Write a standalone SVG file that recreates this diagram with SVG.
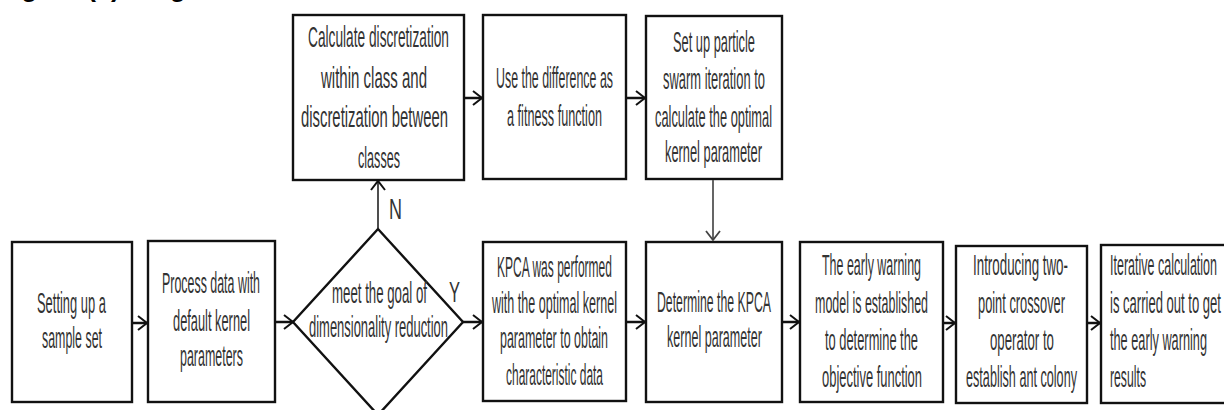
<svg xmlns="http://www.w3.org/2000/svg" width="1224" height="410" viewBox="0 0 1224 410">
<style>
.box{fill:#fff;stroke:#111;stroke-width:2.4}
.t{font-family:"Liberation Sans",Arial,sans-serif;font-size:29px;fill:#333}
.c{stroke:#111;stroke-width:2.5;fill:none}
.cv{stroke:#222;stroke-width:1.6;fill:none}
.cg{stroke:#555;stroke-width:1.8;fill:none}
.cap{font-family:"Liberation Sans",Arial,sans-serif;font-size:27px;font-weight:bold;fill:#000}
</style>
<defs>
<marker id="ah" markerUnits="userSpaceOnUse" markerWidth="14" markerHeight="16" refX="9" refY="7" orient="auto" overflow="visible">
<path d="M0,0 L9,7 L0,14" fill="none" stroke="#111" stroke-width="2"/>
</marker>
<marker id="ahg" markerUnits="userSpaceOnUse" markerWidth="14" markerHeight="16" refX="9" refY="7" orient="auto" overflow="visible">
<path d="M0,0 L9,7 L0,14" fill="none" stroke="#444" stroke-width="1.8"/>
</marker>
</defs>
<text class="cap" x="-3" y="-4">Figure (5) Diagram</text>

<g id="n_calc">
<rect class="box" x="293" y="15" width="171" height="165"/>
<text class="t" transform="translate(308,47) scale(0.43,1)" textLength="327.9" lengthAdjust="spacingAndGlyphs">Calculate discretization</text>
<text class="t" transform="translate(321,88) scale(0.43,1)" textLength="246.5" lengthAdjust="spacingAndGlyphs">within class and</text>
<text class="t" transform="translate(301,127) scale(0.43,1)" textLength="341.9" lengthAdjust="spacingAndGlyphs">discretization between</text>
<text class="t" transform="translate(358,168) scale(0.43,1)" textLength="97.7" lengthAdjust="spacingAndGlyphs">classes</text>
</g>
<g id="n_fit">
<rect class="box" x="483" y="15" width="143" height="164"/>
<text class="t" transform="translate(496,88) scale(0.43,1)" textLength="272.1" lengthAdjust="spacingAndGlyphs">Use the difference as</text>
<text class="t" transform="translate(507,126) scale(0.43,1)" textLength="220.9" lengthAdjust="spacingAndGlyphs">a fitness function</text>
</g>
<g id="n_pso">
<rect class="box" x="646" y="16" width="136" height="163"/>
<text class="t" transform="translate(673,52) scale(0.43,1)" textLength="190.7" lengthAdjust="spacingAndGlyphs">Set up particle</text>
<text class="t" transform="translate(663,89) scale(0.43,1)" textLength="237.2" lengthAdjust="spacingAndGlyphs">swarm iteration to</text>
<text class="t" transform="translate(655,127) scale(0.43,1)" textLength="272.1" lengthAdjust="spacingAndGlyphs">calculate the optimal</text>
<text class="t" transform="translate(665,162) scale(0.43,1)" textLength="225.6" lengthAdjust="spacingAndGlyphs">kernel parameter</text>
</g>
<g id="n_sample">
<rect class="box" x="12" y="242" width="120" height="160"/>
<text class="t" transform="translate(37,313) scale(0.43,1)" textLength="160.5" lengthAdjust="spacingAndGlyphs">Setting up a</text>
<text class="t" transform="translate(42,348) scale(0.43,1)" textLength="139.5" lengthAdjust="spacingAndGlyphs">sample set</text>
</g>
<g id="n_process">
<rect class="box" x="148" y="241" width="127" height="161"/>
<text class="t" transform="translate(162,293) scale(0.43,1)" textLength="227.9" lengthAdjust="spacingAndGlyphs">Process data with</text>
<text class="t" transform="translate(173,331) scale(0.43,1)" textLength="179.1" lengthAdjust="spacingAndGlyphs">default kernel</text>
<text class="t" transform="translate(180,366) scale(0.43,1)" textLength="146.5" lengthAdjust="spacingAndGlyphs">parameters</text>
</g>
<g id="n_decision">
<polygon class="box" points="378,229 463,322 378,415 293,322"/>
<text class="t" transform="translate(332,303) scale(0.43,1)" textLength="220.9" lengthAdjust="spacingAndGlyphs">meet the goal of</text>
<text class="t" transform="translate(309,337) scale(0.43,1)" textLength="323.3" lengthAdjust="spacingAndGlyphs">dimensionality reduction</text>
</g>
<g id="n_kpca">
<rect class="box" x="483" y="242" width="143" height="159"/>
<text class="t" transform="translate(497,277) scale(0.43,1)" textLength="267.4" lengthAdjust="spacingAndGlyphs">KPCA was performed</text>
<text class="t" transform="translate(492,313) scale(0.43,1)" textLength="290.7" lengthAdjust="spacingAndGlyphs">with the optimal kernel</text>
<text class="t" transform="translate(500,348) scale(0.43,1)" textLength="251.2" lengthAdjust="spacingAndGlyphs">parameter to obtain</text>
<text class="t" transform="translate(506,385) scale(0.43,1)" textLength="225.6" lengthAdjust="spacingAndGlyphs">characteristic data</text>
</g>
<g id="n_determine">
<rect class="box" x="646" y="242" width="136" height="160"/>
<text class="t" transform="translate(657,312) scale(0.43,1)" textLength="265.1" lengthAdjust="spacingAndGlyphs">Determine the KPCA</text>
<text class="t" transform="translate(667,347) scale(0.43,1)" textLength="220.9" lengthAdjust="spacingAndGlyphs">kernel parameter</text>
</g>
<g id="n_model">
<rect class="box" x="800" y="242" width="143" height="160"/>
<text class="t" transform="translate(822,275) scale(0.43,1)" textLength="230.2" lengthAdjust="spacingAndGlyphs">The early warning</text>
<text class="t" transform="translate(815,313) scale(0.43,1)" textLength="262.8" lengthAdjust="spacingAndGlyphs">model is established</text>
<text class="t" transform="translate(825,350) scale(0.43,1)" textLength="216.3" lengthAdjust="spacingAndGlyphs">to determine the</text>
<text class="t" transform="translate(822,387) scale(0.43,1)" textLength="232.6" lengthAdjust="spacingAndGlyphs">objective function</text>
</g>
<g id="n_ant">
<rect class="box" x="956" y="246" width="131" height="157"/>
<text class="t" transform="translate(973,275) scale(0.43,1)" textLength="220.9" lengthAdjust="spacingAndGlyphs">Introducing two-</text>
<text class="t" transform="translate(978,313) scale(0.43,1)" textLength="202.3" lengthAdjust="spacingAndGlyphs">point crossover</text>
<text class="t" transform="translate(990,350) scale(0.43,1)" textLength="148.8" lengthAdjust="spacingAndGlyphs">operator to</text>
<text class="t" transform="translate(966,387) scale(0.43,1)" textLength="258.1" lengthAdjust="spacingAndGlyphs">establish ant colony</text>
</g>
<g id="n_iter">
<rect class="box" x="1101" y="245" width="130" height="158"/>
<text class="t" transform="translate(1110,275) scale(0.43,1)" textLength="248.8" lengthAdjust="spacingAndGlyphs">Iterative calculation</text>
<text class="t" transform="translate(1110,313) scale(0.43,1)" textLength="258.1" lengthAdjust="spacingAndGlyphs">is carried out to get</text>
<text class="t" transform="translate(1110,350) scale(0.43,1)" textLength="225.6" lengthAdjust="spacingAndGlyphs">the early warning</text>
<text class="t" transform="translate(1110,387) scale(0.43,1)" textLength="83.7" lengthAdjust="spacingAndGlyphs">results</text>
</g>

<g id="connectors">
<line class="c" x1="464" y1="98" x2="482" y2="98" marker-end="url(#ah)"/>
<line class="c" x1="626" y1="98" x2="645" y2="98" marker-end="url(#ah)"/>
<line class="cg" x1="713" y1="180" x2="713" y2="240" marker-end="url(#ahg)"/>
<line class="c" x1="132" y1="323" x2="147" y2="323" marker-end="url(#ah)"/>
<line class="c" x1="275" y1="322" x2="293" y2="322" marker-end="url(#ah)"/>
<line class="cv" x1="378" y1="229" x2="378" y2="181" marker-end="url(#ah)"/>
<line class="c" x1="463" y1="322" x2="482" y2="322" marker-end="url(#ah)"/>
<line class="c" x1="626" y1="322" x2="645" y2="322" marker-end="url(#ah)"/>
<line class="c" x1="782" y1="322" x2="799" y2="322" marker-end="url(#ah)"/>
<line class="c" x1="943" y1="323" x2="955" y2="323" marker-end="url(#ah)"/>
<line class="c" x1="1087" y1="323" x2="1100" y2="323" marker-end="url(#ah)"/>
<text class="t" transform="translate(389,219) scale(0.43,1)" textLength="30.2" lengthAdjust="spacingAndGlyphs">N</text>
<text class="t" transform="translate(449,302) scale(0.43,1)" textLength="25.6" lengthAdjust="spacingAndGlyphs">Y</text>
</g>
</svg>
